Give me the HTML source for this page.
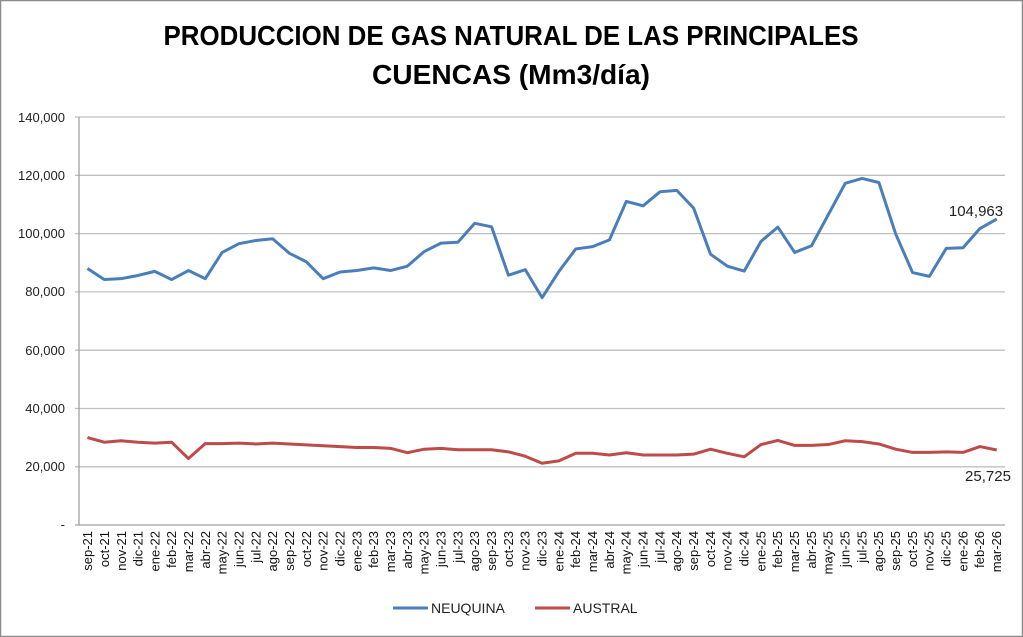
<!DOCTYPE html>
<html><head><meta charset="utf-8"><style>
html,body{margin:0;padding:0;background:#fff;}
svg{display:block;font-family:"Liberation Sans",sans-serif;}
</style></head><body>
<svg width="1023" height="637" viewBox="0 0 1023 637" xmlns="http://www.w3.org/2000/svg">
<rect x="0.5" y="0.5" width="1022" height="636" fill="#fff" stroke="#8c8c8c" stroke-width="1.5"/>
<text x="511" y="45" text-anchor="middle" font-size="28" font-weight="bold" textLength="695" lengthAdjust="spacingAndGlyphs">PRODUCCION DE GAS NATURAL DE LAS PRINCIPALES</text>
<text x="511" y="84" text-anchor="middle" font-size="28" font-weight="bold" textLength="278" lengthAdjust="spacingAndGlyphs">CUENCAS (Mm3/día)</text>
<g stroke="#c0c0c0" stroke-width="1.3">
<line x1="75" y1="117" x2="1005" y2="117"/>
<line x1="75" y1="175.3" x2="1005" y2="175.3"/>
<line x1="75" y1="233.6" x2="1005" y2="233.6"/>
<line x1="75" y1="291.9" x2="1005" y2="291.9"/>
<line x1="75" y1="350.2" x2="1005" y2="350.2"/>
<line x1="75" y1="408.5" x2="1005" y2="408.5"/>
<line x1="75" y1="466.8" x2="1005" y2="466.8"/>
</g>
<g stroke="#a0a0a0" stroke-width="1.3">
<line x1="79" y1="117" x2="79" y2="525"/>
<line x1="75" y1="525" x2="1005" y2="525"/>
</g>
<g font-size="13" fill="#222" text-anchor="end">
<text x="65" y="122">140,000</text>
<text x="65" y="180">120,000</text>
<text x="65" y="238">100,000</text>
<text x="65" y="296">80,000</text>
<text x="65" y="355">60,000</text>
<text x="65" y="413">40,000</text>
<text x="65" y="471">20,000</text>
<text x="65" y="529">-</text>
</g>
<g transform="translate(87.4,525) scale(16.84,-0.002915)" fill="none" stroke-linejoin="round">
<polyline vector-effect="non-scaling-stroke" stroke="#4a7ebb" stroke-width="3" points="0,88000 1,84200 2,84500 3,85600 4,87000 5,84200 6,87300 7,84500 8,93500 9,96500 10,97600 11,98200 12,93200 13,90300 14,84500 15,86800 16,87300 17,88200 18,87300 19,88800 20,93800 21,96700 22,97000 23,103500 24,102300 25,85700 26,87600 27,78000 28,87000 29,94700 30,95500 31,97800 32,111000 33,109500 34,114300 35,114800 36,108700 37,92900 38,88800 39,87100 40,97300 41,102200 42,93500 43,95800 44,106500 45,117200 46,118900 47,117500 48,99800 49,86600 50,85300 51,94900 52,95100 53,101700 54,104963"/>
<polyline vector-effect="non-scaling-stroke" stroke="#be4b48" stroke-width="3" points="0,30000 1,28400 2,28900 3,28400 4,28100 5,28400 6,22800 7,27900 8,27900 9,28100 10,27800 11,28100 12,27800 13,27500 14,27200 15,26900 16,26600 17,26600 18,26300 19,24800 20,26000 21,26300 22,25800 23,25800 24,25800 25,25100 26,23600 27,21200 28,22000 29,24600 30,24600 31,24000 32,24800 33,24000 34,24000 35,24000 36,24300 37,26000 38,24600 39,23400 40,27600 41,29000 42,27300 43,27300 44,27600 45,28900 46,28600 47,27800 48,26000 49,24900 50,24900 51,25100 52,24900 53,26900 54,25725"/>
</g>
<text x="976" y="216" text-anchor="middle" font-size="15" fill="#222">104,963</text>
<text x="988" y="481" text-anchor="middle" font-size="15" fill="#222">25,725</text>
<g font-size="13" fill="#111" text-anchor="end">
<text transform="translate(92,531) rotate(-90)">sep-21</text>
<text transform="translate(109,531) rotate(-90)">oct-21</text>
<text transform="translate(126,531) rotate(-90)">nov-21</text>
<text transform="translate(142.5,531) rotate(-90)">dic-21</text>
<text transform="translate(159.5,531) rotate(-90)">ene-22</text>
<text transform="translate(176,531) rotate(-90)">feb-22</text>
<text transform="translate(193,531) rotate(-90)">mar-22</text>
<text transform="translate(210,531) rotate(-90)">abr-22</text>
<text transform="translate(226.5,531) rotate(-90)">may-22</text>
<text transform="translate(243.5,531) rotate(-90)">jun-22</text>
<text transform="translate(260.5,531) rotate(-90)">jul-22</text>
<text transform="translate(277,531) rotate(-90)">ago-22</text>
<text transform="translate(294,531) rotate(-90)">sep-22</text>
<text transform="translate(311,531) rotate(-90)">oct-22</text>
<text transform="translate(327.5,531) rotate(-90)">nov-22</text>
<text transform="translate(344.5,531) rotate(-90)">dic-22</text>
<text transform="translate(361.5,531) rotate(-90)">ene-23</text>
<text transform="translate(378,531) rotate(-90)">feb-23</text>
<text transform="translate(395,531) rotate(-90)">mar-23</text>
<text transform="translate(412,531) rotate(-90)">abr-23</text>
<text transform="translate(428.5,531) rotate(-90)">may-23</text>
<text transform="translate(445.5,531) rotate(-90)">jun-23</text>
<text transform="translate(462.5,531) rotate(-90)">jul-23</text>
<text transform="translate(479,531) rotate(-90)">ago-23</text>
<text transform="translate(496,531) rotate(-90)">sep-23</text>
<text transform="translate(513,531) rotate(-90)">oct-23</text>
<text transform="translate(529.5,531) rotate(-90)">nov-23</text>
<text transform="translate(546.5,531) rotate(-90)">dic-23</text>
<text transform="translate(563.5,531) rotate(-90)">ene-24</text>
<text transform="translate(580,531) rotate(-90)">feb-24</text>
<text transform="translate(597,531) rotate(-90)">mar-24</text>
<text transform="translate(614,531) rotate(-90)">abr-24</text>
<text transform="translate(630.5,531) rotate(-90)">may-24</text>
<text transform="translate(647.5,531) rotate(-90)">jun-24</text>
<text transform="translate(664.5,531) rotate(-90)">jul-24</text>
<text transform="translate(681,531) rotate(-90)">ago-24</text>
<text transform="translate(698,531) rotate(-90)">sep-24</text>
<text transform="translate(715,531) rotate(-90)">oct-24</text>
<text transform="translate(731.5,531) rotate(-90)">nov-24</text>
<text transform="translate(748.5,531) rotate(-90)">dic-24</text>
<text transform="translate(765.5,531) rotate(-90)">ene-25</text>
<text transform="translate(782,531) rotate(-90)">feb-25</text>
<text transform="translate(799,531) rotate(-90)">mar-25</text>
<text transform="translate(816,531) rotate(-90)">abr-25</text>
<text transform="translate(832.5,531) rotate(-90)">may-25</text>
<text transform="translate(849.5,531) rotate(-90)">jun-25</text>
<text transform="translate(866.5,531) rotate(-90)">jul-25</text>
<text transform="translate(883,531) rotate(-90)">ago-25</text>
<text transform="translate(900,531) rotate(-90)">sep-25</text>
<text transform="translate(917,531) rotate(-90)">oct-25</text>
<text transform="translate(933.5,531) rotate(-90)">nov-25</text>
<text transform="translate(950.5,531) rotate(-90)">dic-25</text>
<text transform="translate(967.5,531) rotate(-90)">ene-26</text>
<text transform="translate(984,531) rotate(-90)">feb-26</text>
<text transform="translate(1001,531) rotate(-90)">mar-26</text>
</g>
<line x1="393" y1="608" x2="428" y2="608" stroke="#4a7ebb" stroke-width="3"/>
<text x="431" y="613" font-size="14" fill="#222">NEUQUINA</text>
<line x1="535" y1="608" x2="570" y2="608" stroke="#be4b48" stroke-width="3"/>
<text x="573" y="613" font-size="14" fill="#222">AUSTRAL</text>
</svg>
</body></html>
